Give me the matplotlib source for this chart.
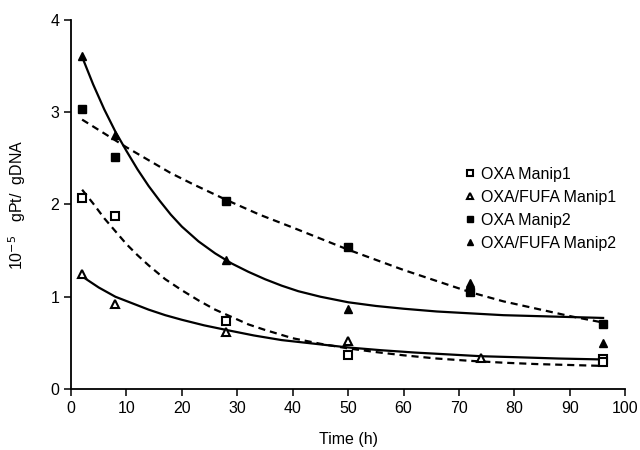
import matplotlib
matplotlib.use("Agg")
import matplotlib.pyplot as plt

plt.rcParams['font.family'] = ['Liberation Sans', 'DejaVu Sans']

# Measured points
t_oxa1 = [2, 8, 28, 50, 96, 96]
y_oxa1 = [2.07, 1.88, 0.74, 0.37, 0.33, 0.29]
t_fufa1 = [2, 8, 28, 50, 74]
y_fufa1 = [1.25, 0.92, 0.62, 0.52, 0.34]
t_oxa2 = [2, 8, 28, 50, 72, 96]
y_oxa2 = [3.04, 2.52, 2.04, 1.54, 1.05, 0.70]
t_fufa2 = [2, 8, 28, 50, 72, 96]
y_fufa2 = [3.61, 2.75, 1.40, 0.87, 1.15, 0.50]

# Fitted curves
cx_oxa1 = [2, 4, 6, 8, 10, 12, 14, 17, 20, 23, 26, 29, 32, 35, 40, 45, 50, 55, 60, 66, 72, 78, 84, 90, 96]
cy_oxa1 = [2.16, 2.01, 1.85, 1.71, 1.57, 1.45, 1.34, 1.19, 1.07, 0.96, 0.86, 0.78, 0.70, 0.64, 0.55, 0.49, 0.44, 0.40, 0.365, 0.33, 0.305, 0.285, 0.27, 0.26, 0.25]
cx_fufa1 = [2, 5, 8, 11, 14, 17, 20, 24, 28, 33, 38, 44, 50, 56, 62, 68, 74, 80, 88, 96]
cy_fufa1 = [1.22, 1.10, 1.00, 0.93, 0.86, 0.80, 0.75, 0.69, 0.64, 0.58, 0.53, 0.49, 0.45, 0.42, 0.395, 0.375, 0.355, 0.345, 0.33, 0.32]
cx_oxa2 = [2, 6, 10, 14, 18, 22, 28, 34, 40, 45, 50, 55, 60, 66, 72, 78, 84, 90, 96]
cy_oxa2 = [2.92, 2.77, 2.62, 2.48, 2.34, 2.22, 2.05, 1.89, 1.75, 1.63, 1.51, 1.40, 1.29, 1.17, 1.05, 0.95, 0.87, 0.79, 0.72]
cx_fufa2 = [2, 4, 6, 8, 10, 12, 14, 16, 18, 20, 23, 26, 29, 32, 35, 38, 41, 45, 50, 55, 60, 66, 72, 78, 84, 90, 96]
cy_fufa2 = [3.60, 3.30, 3.03, 2.79, 2.58, 2.38, 2.20, 2.04, 1.89, 1.76, 1.60, 1.47, 1.36, 1.27, 1.19, 1.12, 1.06, 1.00, 0.94, 0.90, 0.87, 0.84, 0.82, 0.80, 0.79, 0.78, 0.77]

labels = ['OXA Manip1', 'OXA/FUFA Manip1', 'OXA Manip2', 'OXA/FUFA Manip2']
xticks = [0, 10, 20, 30, 40, 50, 60, 70, 80, 90, 100]
yticks = [0, 1, 2, 3, 4]

fig = plt.figure(figsize=(6.4, 4.5), dpi=100)
ax = fig.add_axes([0.111, 0.1356, 0.866, 0.82])

dash = (0, (3.2, 2.2))
ax.plot(cx_oxa1, cy_oxa1, color='black', lw=1.6, linestyle=dash)
ax.plot(cx_fufa1, cy_fufa1, color='black', lw=1.6)
ax.plot(cx_oxa2, cy_oxa2, color='black', lw=1.6, linestyle=dash)
ax.plot(cx_fufa2, cy_fufa2, color='black', lw=1.6)

ax.plot(t_oxa1, y_oxa1, linestyle='none', marker='s', ms=6, mfc='white', mec='black', mew=1.5, label=labels[0])
ax.plot(t_fufa1, y_fufa1, linestyle='none', marker='^', ms=6, mfc='white', mec='black', mew=1.5, label=labels[1])
ax.plot(t_oxa2, y_oxa2, linestyle='none', marker='s', ms=5.5, mfc='black', mec='black', label=labels[2])
ax.plot(t_fufa2, y_fufa2, linestyle='none', marker='^', ms=5.5, mfc='black', mec='black', label=labels[3])

ax.set_xlim(0, 100)
ax.set_ylim(0, 4)
ax.set_xticks(xticks)
ax.set_yticks(yticks)
ax.spines['top'].set_visible(False)
ax.spines['right'].set_visible(False)
ax.spines['left'].set_linewidth(1.3)
ax.spines['bottom'].set_linewidth(1.3)
ax.tick_params(direction='out', length=5, width=1.1, labelsize=11.5, colors='black')

ax.set_xlabel('Time (h)', fontsize=11.5, labelpad=12)
ax.set_ylabel('10$^{-5}$   gPt/  gDNA', fontsize=11.5, labelpad=16)

leg = ax.legend(loc='upper left', bbox_to_anchor=(0.70, 0.62), frameon=False,
                fontsize=11.5, handlelength=0.6, handletextpad=0.4,
                labelspacing=0.5, markerscale=0.75, borderaxespad=0)

fig.savefig('out.png', dpi=100)
